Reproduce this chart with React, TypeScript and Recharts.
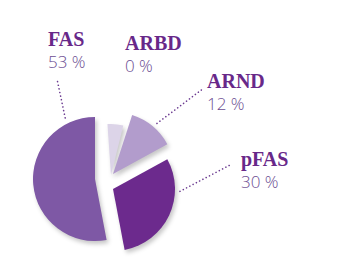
import React from 'react';
import { PieChart, Pie, Cell } from 'recharts';

// clockwise from 12 o'clock
const categories = ['ARBD', 'ARND', 'pFAS', 'FAS'];
const percentLabels = ['0 %', '12 %', '30 %', '53 %'];
// ARBD is printed as 0 % but drawn as a thin sliver
const sliceValues = [5, 12, 30, 53];

const colors = ['#dcd4e8', '#b29ccc', '#6c2a8d', '#7e58a5'];

const data = categories.map((name, i) => ({ name, value: sliceValues[i] }));

// where each exploded slice sits and where its label goes
const layout = [
  { cx: 111, cy: 175, r: 51, start: 94, tx: 125, ty: 50, anchor: null },
  { cx: 113, cy: 174, r: 62, start: 90, tx: 207, ty: 88, anchor: { angle: 41, r: 67, x: 204, y: 88 } },
  { cx: 113, cy: 189, r: 62, start: 90, tx: 241, ty: 166, anchor: { angle: 92, r: 67, x: 232, y: 164 } },
  { cx: 95, cy: 179, r: 62, start: 90, tx: 48, ty: 46, anchor: { angle: 334, r: 68, x: 57, y: 79 } },
];

const renderLabel = (slice: number) => (props: any) => {
  if (props.index !== slice) return null;
  const l = layout[slice];
  let line = null;
  if (l.anchor) {
    const rad = ((90 - l.anchor.angle) * Math.PI) / 180;
    const x1 = props.cx + l.anchor.r * Math.cos(rad);
    const y1 = props.cy - l.anchor.r * Math.sin(rad);
    line = (
      <line
        x1={x1}
        y1={y1}
        x2={l.anchor.x}
        y2={l.anchor.y}
        stroke="#6b3a90"
        strokeWidth={1.6}
        strokeDasharray="0.1 3.6"
        strokeLinecap="round"
      />
    );
  }
  return (
    <g>
      {line}
      <text
        x={l.tx}
        y={l.ty}
        fill="#682889"
        fontFamily="'Liberation Serif', serif"
        fontWeight="bold"
        fontSize={20}
      >
        {categories[slice]}
      </text>
      <text
        x={l.tx}
        y={l.ty + 22}
        fill="#6c4d93"
        fontFamily="'Open Sans', sans-serif"
        fontWeight={300}
        fontSize={17}
      >
        {percentLabels[slice]}
      </text>
    </g>
  );
};

export default function App() {
  return (
    <div style={{ position: 'absolute', left: 0, top: 0, width: 350, height: 272, background: '#fff' }}>
      <PieChart width={350} height={272} margin={{ top: 0, right: 0, bottom: 0, left: 0 }}>
        {layout.map((l, slice) => (
          <Pie
            key={slice}
            data={data}
            dataKey="value"
            nameKey="name"
            cx={l.cx}
            cy={l.cy}
            outerRadius={l.r}
            startAngle={l.start}
            endAngle={l.start - 360}
            stroke="none"
            labelLine={false}
            label={renderLabel(slice)}
            isAnimationActive={false}
          >
            {data.map((d, i) => (
              <Cell
                key={d.name}
                fill={i === slice ? colors[i] : 'none'}
                stroke="none"
                style={i === slice ? { filter: 'drop-shadow(2px 3px 2px rgba(0,0,0,0.22))' } : undefined}
              />
            ))}
          </Pie>
        ))}
      </PieChart>
    </div>
  );
}
